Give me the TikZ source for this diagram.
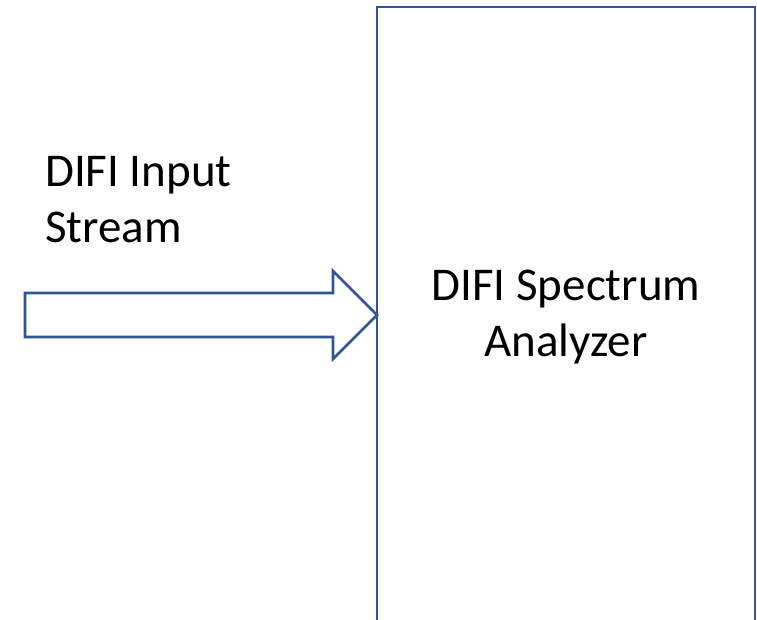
\documentclass[tikz,border=0pt]{standalone}
\usepackage{fontspec}
\setmainfont{Carlito}
\definecolor{officeblue}{RGB}{47,85,151}
\begin{document}
\begin{tikzpicture}[x=1pt,y=1pt,
  outline/.style={draw=officeblue,line width=2.6pt,line join=miter},
  bigtext/.style={font=\fontsize{47}{56}\selectfont,inner sep=0pt}]
\useasboundingbox (0,0) rectangle (757,620);
% analyzer box (open at the bottom, runs off the picture)
\coordinate (bl) at (377,-5);
\coordinate (tl) at (377,613);
\coordinate (tr) at (755,613);
\coordinate (br) at (755,-5);
\draw[outline] (bl) -- (tl) -- (tr) -- (br);
\node[bigtext,align=center,anchor=base] (analyzer) at (566,263) {DIFI Spectrum\\Analyzer};
% input arrow
\coordinate (tip) at (377,305);
\draw[outline] (25,327) -- (333,327) -- (333,349) -- (tip) -- (333,261) -- (333,283) -- (25,283) -- cycle;
\node[bigtext,align=left,anchor=base west] (input) at (45,377) {DIFI Input\\Stream};
\end{tikzpicture}
\end{document}
